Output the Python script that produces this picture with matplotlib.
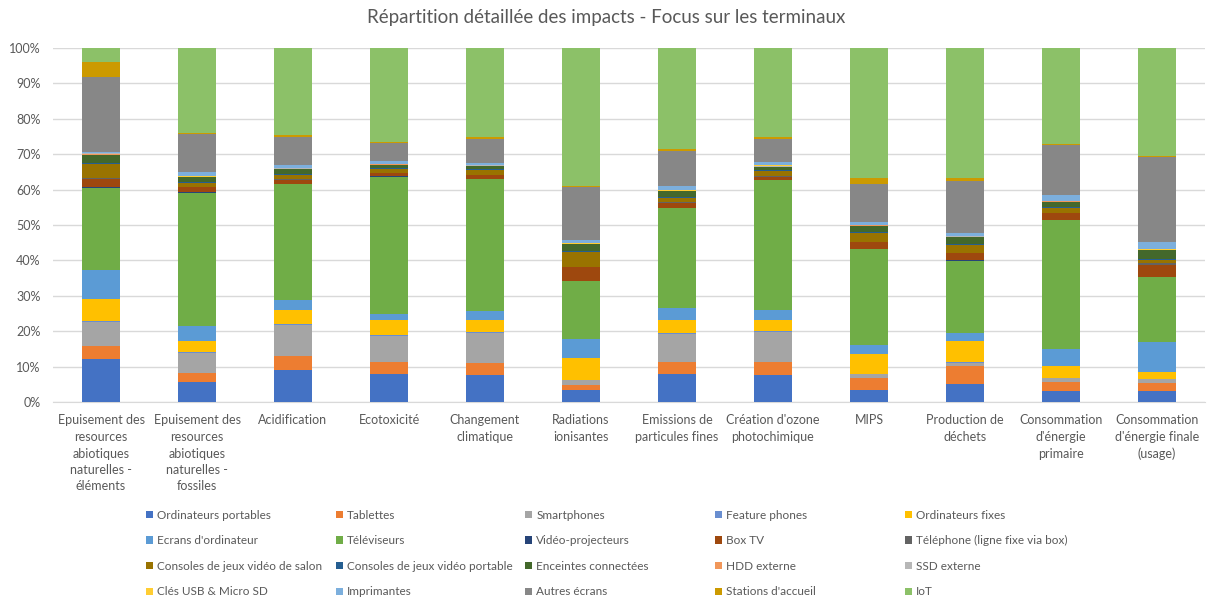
import matplotlib
matplotlib.use("Agg")
import matplotlib.pyplot as plt
import numpy as np

plt.rcParams['font.family'] = ['Lato', 'DejaVu Sans']

categories = [
    "Epuisement des\nresources\nabiotiques\nnaturelles -\néléments",
    "Epuisement des\nresources\nabiotiques\nnaturelles -\nfossiles",
    "Acidification",
    "Ecotoxicité",
    "Changement\nclimatique",
    "Radiations\nionisantes",
    "Emissions de\nparticules fines",
    "Création d'ozone\nphotochimique",
    "MIPS",
    "Production de\ndéchets",
    "Consommation\nd'énergie\nprimaire",
    "Consommation\nd'énergie finale\n(usage)",
]

series_names = [
    "Ordinateurs portables", "Tablettes", "Smartphones", "Feature phones", "Ordinateurs fixes",
    "Ecrans d'ordinateur", "Téléviseurs", "Vidéo-projecteurs", "Box TV", "Téléphone (ligne fixe via box)",
    "Consoles de jeux vidéo de salon", "Consoles de jeux vidéo portable", "Enceintes connectées", "HDD externe", "SSD externe",
    "Clés USB & Micro SD", "Imprimantes", "Autres écrans", "Stations d'accueil", "IoT",
]

ordinateurs_portables = [12.1, 5.7, 8.9, 8.0, 7.5, 3.5, 7.9, 7.5, 3.5, 5.0, 3.2, 3.2]
tablettes             = [3.8, 2.5, 4.0, 3.4, 3.6, 1.4, 3.5, 3.9, 3.3, 5.3, 2.5, 2.2]
smartphones           = [6.8, 5.6, 8.8, 7.2, 8.5, 1.2, 7.8, 8.5, 1.1, 0.8, 1.1, 1.0]
feature_phones        = [0.2, 0.2, 0.2, 0.2, 0.2, 0.1, 0.2, 0.2, 0.1, 0.1, 0.1, 0.1]
ordinateurs_fixes     = [6.3, 3.1, 4.1, 4.3, 3.3, 6.2, 3.7, 3.0, 5.5, 5.9, 3.4, 2.0]
ecrans_ordinateur     = [8.2, 4.3, 2.9, 1.7, 2.5, 5.3, 3.5, 2.9, 2.5, 2.5, 4.7, 8.5]
televiseurs           = [23.1, 37.7, 32.7, 38.9, 37.4, 16.5, 28.2, 36.6, 27.1, 20.3, 36.3, 18.2]
video_projecteurs     = [0.2, 0.1, 0.1, 0.1, 0.1, 0.1, 0.1, 0.1, 0.1, 0.1, 0.1, 0.1]
box_tv                = [2.4, 1.5, 1.1, 0.9, 1.0, 3.8, 1.4, 1.0, 2.0, 2.0, 2.0, 3.5]
telephone_fixe        = [0.2, 0.1, 0.1, 0.1, 0.1, 0.1, 0.1, 0.1, 0.1, 0.1, 0.1, 0.4]
consoles_salon        = [3.9, 1.1, 1.2, 1.0, 1.3, 4.1, 1.3, 1.4, 2.3, 2.3, 1.3, 1.0]
consoles_portable     = [0.3, 0.2, 0.3, 0.2, 0.2, 0.3, 0.3, 0.2, 0.3, 0.3, 0.2, 0.3]
enceintes_connectees  = [2.4, 1.4, 1.4, 1.0, 1.0, 1.9, 1.5, 1.0, 1.9, 1.9, 1.6, 2.3]
hdd_externe           = [0.1, 0.1, 0.1, 0.1, 0.1, 0.1, 0.1, 0.1, 0.1, 0.1, 0.1, 0.1]
ssd_externe           = [0.2, 0.1, 0.1, 0.1, 0.1, 0.1, 0.1, 0.1, 0.1, 0.1, 0.1, 0.1]
cles_usb              = [0.1, 0.1, 0.1, 0.1, 0.1, 0.1, 0.1, 0.3, 0.1, 0.1, 0.1, 0.1]
imprimantes           = [0.3, 1.2, 0.9, 0.7, 0.6, 1.1, 1.1, 0.8, 0.8, 0.7, 1.5, 2.0]
autres_ecrans         = [21.3, 10.6, 7.8, 5.1, 6.8, 14.7, 10.0, 6.7, 10.7, 14.7, 14.2, 24.0]
stations_accueil      = [4.2, 0.4, 0.7, 0.3, 0.4, 0.4, 0.7, 0.4, 1.8, 1.1, 0.4, 0.3]
iot                   = [3.9, 24.0, 24.5, 26.6, 25.2, 39.0, 28.4, 25.2, 36.6, 36.6, 27.0, 30.6]

series_values = [
    ordinateurs_portables, tablettes, smartphones, feature_phones, ordinateurs_fixes,
    ecrans_ordinateur, televiseurs, video_projecteurs, box_tv, telephone_fixe,
    consoles_salon, consoles_portable, enceintes_connectees, hdd_externe, ssd_externe,
    cles_usb, imprimantes, autres_ecrans, stations_accueil, iot,
]

colors = [
    "#4472C4", "#ED7D31", "#A5A5A5", "#698ED0", "#FFC000",
    "#5B9BD5", "#70AD47", "#264478", "#9E480E", "#636363",
    "#997300", "#255E91", "#43682B", "#F1975A", "#B7B7B7",
    "#FFCD33", "#7CAFDD", "#878787", "#CC9A00", "#8CC168",
]

data = np.array(series_values, dtype=float)
data = data / data.sum(axis=0) * 100.0

W, H = 1213, 601
fig = plt.figure(figsize=(W / 100, H / 100), dpi=100)
ax = fig.add_axes([53 / W, 1 - 402 / H, (1205 - 53) / W, (402 - 48) / H])

x = np.arange(len(categories))
bottom = np.zeros(len(categories))
handles = []
for name, vals, col in zip(series_names, data, colors):
    h = ax.bar(x, vals, width=0.4, bottom=bottom, color=col, label=name, linewidth=0, zorder=3)
    handles.append(h)
    bottom += vals

ax.set_xlim(-0.5, len(categories) - 0.5)
ax.set_ylim(0, 100)
ax.set_yticks(np.arange(0, 101, 10))
ax.set_yticklabels([f"{v}%" for v in range(0, 101, 10)])
ax.yaxis.grid(True, color="#D9D9D9", linewidth=1, zorder=0)
ax.set_axisbelow(True)
for s in ["top", "right", "left"]:
    ax.spines[s].set_visible(False)
ax.spines["bottom"].set_color("#D9D9D9")
ax.tick_params(axis="both", length=0, colors="#595959", labelsize=9)
ax.tick_params(axis="y", pad=9)
ax.set_xticks(x)
ax.set_xticklabels(categories, fontsize=9, color="#595959", linespacing=1.45, va="top")
ax.tick_params(axis="x", pad=9)

fig.text(0.5, 1 - 18 / H, "Répartition détaillée des impacts - Focus sur les terminaux",
         ha="center", va="center", fontsize=13.5, color="#595959")

# legend: 5 columns, 4 rows, filled row-wise
ncol, nrow = 5, 4
col_x = [146, 336, 525, 715, 905]
center_y = (515 + 592) / 2
for c in range(ncol):
    idx = [r * ncol + c for r in range(nrow)]
    leg = fig.legend([handles[i] for i in idx], [series_names[i] for i in idx],
                     loc="center left", bbox_to_anchor=(col_x[c] / W, 1 - center_y / H),
                     frameon=False, fontsize=8.5, handlelength=0.6, handleheight=0.6,
                     handletextpad=0.35, labelspacing=1.24, borderpad=0, borderaxespad=0)
    for t in leg.get_texts():
        t.set_color("#595959")

fig.savefig("out.png", dpi=100)
